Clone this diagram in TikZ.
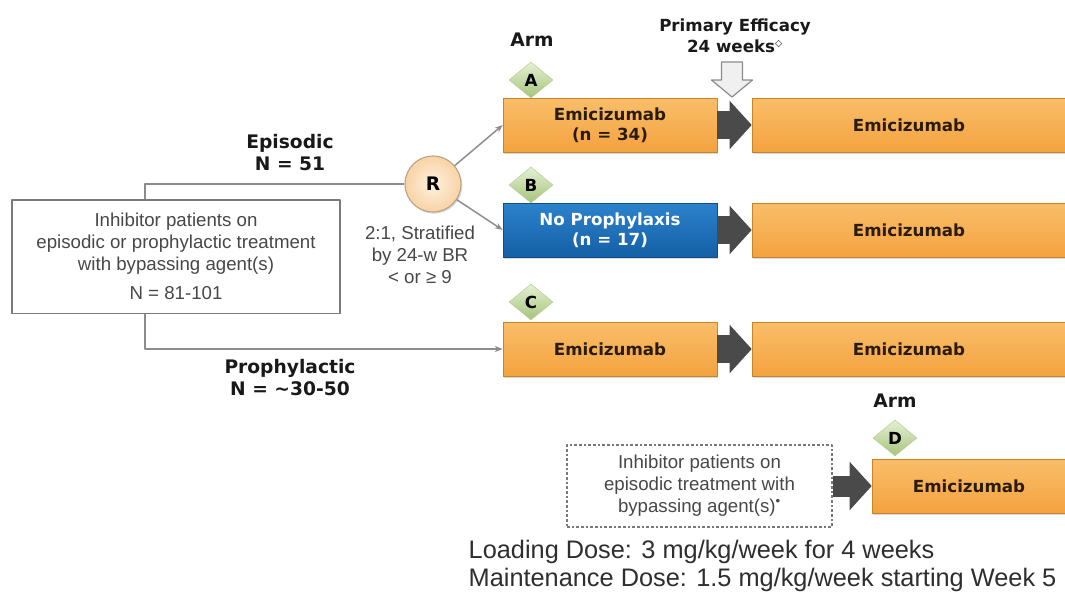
\documentclass[tikz,border=0pt]{standalone}
\usepackage{fontspec}
\setmainfont{Liberation Sans}
\newfontfamily\heavy{DejaVu Sans}
\usetikzlibrary{arrows.meta,shapes.geometric,shadows}
\definecolor{orangetop}{HTML}{F9BE6A}
\definecolor{orangebottom}{HTML}{F4A23F}
\definecolor{orangeedge}{HTML}{C98428}
\definecolor{bluetop}{HTML}{2B83CC}
\definecolor{bluebottom}{HTML}{155FA6}
\definecolor{blueedge}{HTML}{0E4C88}
\definecolor{arrowgray}{HTML}{4A4A4A}
\definecolor{diamondtop}{HTML}{E6F0D4}
\definecolor{diamondbottom}{HTML}{A6C47A}
\definecolor{diamondedge}{HTML}{B7CF95}
\definecolor{rinner}{HTML}{FFF1DF}
\definecolor{router}{HTML}{F8D3A6}
\definecolor{redge}{HTML}{B9A084}
\definecolor{linkgray}{HTML}{8C8C8C}
\definecolor{textgray}{HTML}{474747}
\definecolor{boxline}{HTML}{7A7A7A}
\definecolor{boxtext}{HTML}{2A1C0C}
\tikzset{
	txt/.style={font=\fontsize{14}{16.5}\selectfont, text=textgray, align=center},
	lbl/.style={font=\heavy\bfseries\fontsize{14}{16.5}\selectfont, text=black!90, align=center},
	shade/.style={drop shadow={shadow xshift=1pt, shadow yshift=-1.2pt, opacity=0.3}},
	orangebox/.style={draw=orangeedge, top color=orangetop, bottom color=orangebottom, shade, minimum height=40.5pt, inner sep=0pt, font=\heavy\bfseries\fontsize{12.5}{15}\selectfont, text=boxtext, align=center},
	bluebox/.style={draw=blueedge, top color=bluetop, bottom color=bluebottom, shade, minimum height=40.5pt, inner sep=0pt, font=\heavy\bfseries\fontsize{12.5}{15}\selectfont, text=white, align=center},
	armdiamond/.style={diamond, draw=diamondedge, top color=diamondtop, bottom color=diamondbottom, minimum width=33pt, minimum height=27pt, inner sep=0pt, font=\heavy\bfseries\fontsize{12.5}{12.5}\selectfont},
	link/.style={draw=linkgray, line width=1.1pt},
	fatarrow/.style={draw=arrowgray, line width=21pt, -{Triangle[length=16.5pt,width=35.25pt]}},
	fatarrowd/.style={draw=arrowgray, line width=15.75pt, -{Triangle[length=16.5pt,width=35.25pt]}},
}
\begin{document}
\begin{tikzpicture}[x=0.75pt, y=-0.75pt, line join=round, >={Stealth[length=6pt,width=4.5pt]}]
	\def\wl{160.5pt}
	\def\wr{235.5pt}
	\useasboundingbox (0,0) rectangle (1065,597);
	\clip (0,0) rectangle (1065,597);
	\node[txt, draw=boxline, line width=1pt, minimum width=246pt, minimum height=85pt] (src) at (176,256.5) {Inhibitor patients on\\episodic or prophylactic treatment\\with bypassing agent(s)\\[5pt]N = 81-101};
	\node[circle, draw=redge, line width=0.8pt, inner color=rinner, outer color=router, shade, minimum size=42pt, font=\heavy\bfseries\fontsize{14}{14}\selectfont] (R) at (433,184) {R};
	\node[lbl] (epi) at (290,153) {Episodic\\N = 51};
	\node[lbl] (pro) at (290,378) {Prophylactic\\N = \textasciitilde30-50};
	\node[txt] (strat) at (420,255) {2:1, Stratified\\by 24-w BR\\< or ≥ 9};
	\node[orangebox, minimum width=\wl] (A) at (610,125) {Emicizumab\\(n = 34)};
	\node[orangebox, minimum width=\wr] (A2) at (909,125) {Emicizumab};
	\node[bluebox, minimum width=\wl] (B) at (610,230) {No Prophylaxis\\(n = 17)};
	\node[orangebox, minimum width=\wr] (B2) at (909,230) {Emicizumab};
	\node[orangebox, minimum width=\wl] (C) at (610,349) {Emicizumab};
	\node[orangebox, minimum width=\wr] (C2) at (909,349) {Emicizumab};
	\node[txt, draw=boxline, dash pattern=on 2pt off 1.5pt, line width=0.8pt, minimum width=198.75pt, minimum height=61.5pt] (pat) at (699.5,486) {Inhibitor patients on\\episodic treatment with\\bypassing agent(s)\textsuperscript{•}};
	\node[orangebox, minimum width=145.5pt] (D) at (969,486) {Emicizumab};
	\node[armdiamond] (dA) at (531,80) {A};
	\node[armdiamond] (dB) at (531,185) {B};
	\node[armdiamond] (dC) at (531,302) {C};
	\node[armdiamond] (dD) at (895,438) {D};
	\node[lbl] (armA) at (532,40) {Arm};
	\node[lbl] (armD) at (895,401) {Arm};
	\node[lbl, font=\heavy\bfseries\fontsize{12.5}{15.5}\selectfont] (eff) at (735,36) {Primary Efficacy\\24 weeks\textsuperscript{\fontsize{7}{7}\selectfont◇}};
	\coordinate (tip) at (732,97);
	\draw[fill=black!6, draw=black!45, line width=0.9pt] (tip) -- ++(20.5,-17) -- ++(-10,0) -- ++(0,-18) -- ++(-21,0) -- ++(0,18) -- ++(-10,0) -- cycle;
	\draw[link] ([xshift=-23.25pt]src.north) |- (R);
	\draw[link,->] ([xshift=-23.25pt]src.south) |- (C);
	\draw[link,->] (R) -- (A.west);
	\draw[link,->] (R) -- (B.west);
	\draw[fatarrow] (A) -- (A2);
	\draw[fatarrow] (B) -- (B2);
	\draw[fatarrow] (C) -- (C2);
	\draw[fatarrowd] (pat) -- (D);
	\node[anchor=west, align=left, font=\fontsize{19}{21}\selectfont, text=black!82] (dose) at (464,566) {Loading Dose: 3 mg/kg/week for 4 weeks\\Maintenance Dose: 1.5 mg/kg/week starting Week 5};
\end{tikzpicture}
\end{document}
